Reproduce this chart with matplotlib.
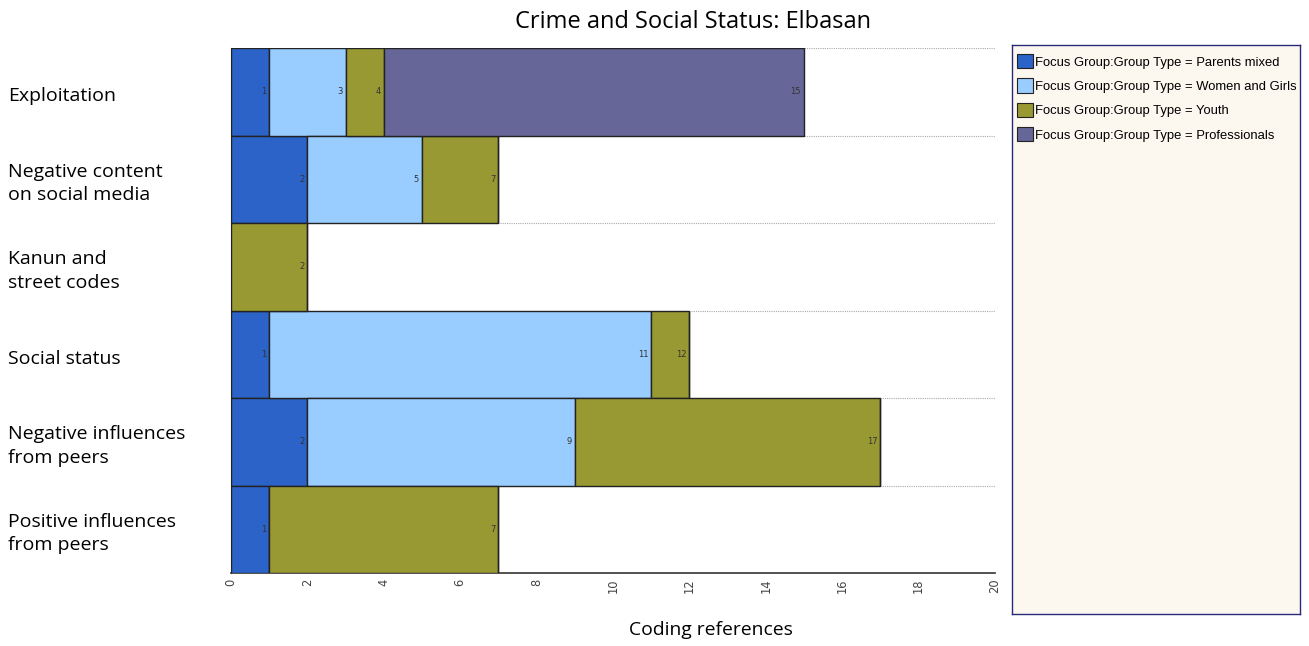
import matplotlib.pyplot as plt
from matplotlib.patches import Patch
from matplotlib.transforms import blended_transform_factory
import numpy as np

# data
categories = ["Exploitation", "Negative content\non social media", "Kanun and\nstreet codes",
              "Social status", "Negative influences\nfrom peers", "Positive influences\nfrom peers"]
group_names = ["Focus Group:Group Type = Parents mixed", "Focus Group:Group Type = Women and Girls",
               "Focus Group:Group Type = Youth", "Focus Group:Group Type = Professionals"]
parents = [1, 2, 0, 1, 2, 1]
women = [2, 3, 0, 10, 7, 0]
youth = [1, 2, 2, 1, 8, 6]
professionals = [11, 0, 0, 0, 0, 0]
x_ticks = list(range(0, 21, 2))

colors = ["#2b63c9", "#99ccff", "#999933", "#666699"]
series = [parents, women, youth, professionals]

fig = plt.figure(figsize=(13.09, 6.46), dpi=100)
fig.patch.set_facecolor("white")
ax = fig.add_axes([231 / 1309, 1 - 573 / 646, (995 - 231) / 1309, (573 - 48) / 646])

y = np.arange(len(categories))
left = np.zeros(len(categories))
for vals, col in zip(series, colors):
    vals = np.array(vals, dtype=float)
    ax.barh(y, vals, left=left, height=1.0, color=col, edgecolor="#222222", linewidth=1.0, zorder=3)
    for i, v in enumerate(vals):
        if v > 0:
            ax.text(left[i] + v - 0.08, y[i], str(int(left[i] + v)), ha="right", va="center",
                    fontsize=6, color="#333333", zorder=4)
    left = left + vals

# dotted row separators
for b in np.arange(-0.5, len(categories) - 0.5):
    ax.axhline(b, color="#aaaaaa", linestyle=(0, (1, 1)), linewidth=0.8, zorder=1)

ax.set_xlim(0, 20)
ax.set_ylim(len(categories) - 0.5, -0.5)
ax.set_xticks(x_ticks)
ax.set_xticklabels([str(t) for t in x_ticks], rotation=90, fontsize=8.3, color="#444444",
                   family="DejaVu Sans")
ax.tick_params(axis="x", length=0, pad=4)
ax.set_yticks([])
for s in ["top", "right"]:
    ax.spines[s].set_visible(False)
ax.spines["left"].set_color("#555555")
ax.spines["bottom"].set_color("#333333")
ax.spines["bottom"].set_linewidth(1.2)

trans = blended_transform_factory(fig.transFigure, ax.transData)
for i, c in enumerate(categories):
    ax.text(8 / 1309, y[i] + 0.05, c, transform=trans, ha="left", va="center", fontsize=14,
            family="Open Sans", linespacing=1.4)

fig.text(693 / 1309, 1 - 22 / 646, "Crime and Social Status: Elbasan", ha="center", va="center",
         fontsize=17, family="Open Sans")
fig.text(711 / 1309, 1 - 630 / 646, "Coding references", ha="center", va="center",
         fontsize=13.9, family="Open Sans")

# legend panel
lax = fig.add_axes([1012 / 1309, 1 - 614 / 646, (1300 - 1012) / 1309, (614 - 45) / 646])
lax.set_facecolor("#fcf8f0")
lax.set_xticks([])
lax.set_yticks([])
for s in lax.spines.values():
    s.set_color("#2a2a7a")
    s.set_linewidth(1.0)
handles = [Patch(facecolor=c, edgecolor="#222222", linewidth=0.8) for c in colors]
lax.legend(handles, group_names, loc="upper left", bbox_to_anchor=(0.0, 0.993), frameon=False,
           handlelength=1.2, handleheight=1.3, handletextpad=0.15, labelspacing=0.75,
           borderaxespad=0.1, borderpad=0.3, prop={"family": "Liberation Sans", "size": 9.4})

fig.savefig("out.png", dpi=100)
